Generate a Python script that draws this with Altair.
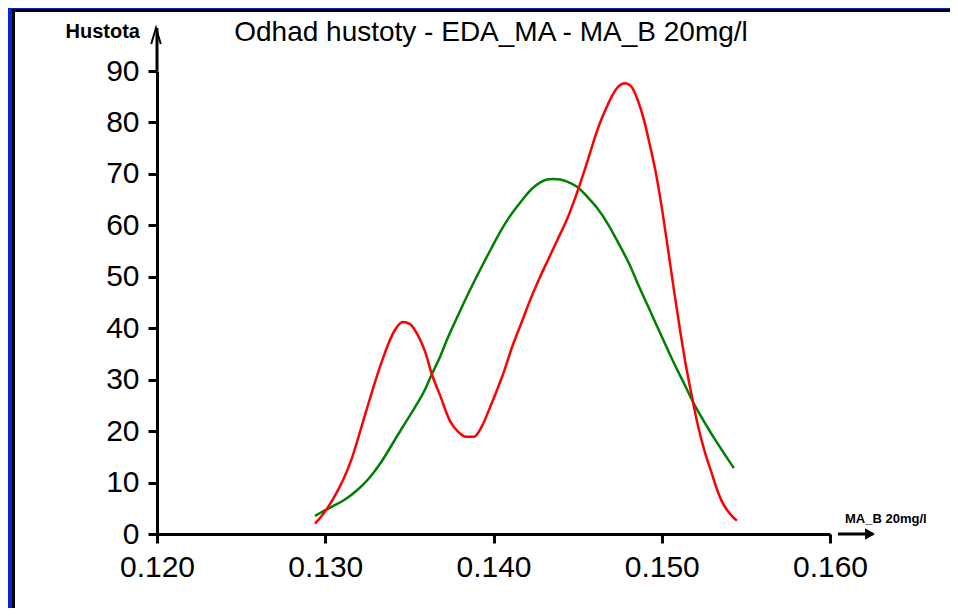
import altair as alt
import pandas as pd

# ---- data ----
red_x = [0.12939, 0.12981, 0.13028, 0.13070, 0.13106, 0.13159, 0.13195, 0.13248, 0.13284, 0.13337,
         0.13373, 0.13415, 0.13462, 0.13504, 0.13551, 0.13593, 0.13634, 0.13682, 0.13741, 0.13789,
         0.13837, 0.13884, 0.13932, 0.13979, 0.14021, 0.14056, 0.14110, 0.14169, 0.14223, 0.14276,
         0.14330, 0.14383, 0.14437, 0.14484, 0.14520, 0.14556, 0.14591, 0.14627, 0.14669, 0.14704,
         0.14740, 0.14782, 0.14823, 0.14859, 0.14895, 0.14930, 0.14966, 0.15001, 0.15037, 0.15073,
         0.15108, 0.15144, 0.15180, 0.15215, 0.15251, 0.15293, 0.15328, 0.15358, 0.15394, 0.15423,
         0.15447]
red_y = [2.0, 3.6, 5.8, 8.2, 10.5, 14.8, 18.6, 24.4, 28.3, 33.6,
         36.8, 39.7, 41.2, 40.8, 38.6, 35.5, 31.0, 27.0, 22.0, 19.9,
         18.9, 18.9, 21.0, 24.6, 28.0, 31.0, 36.3, 41.3, 45.9, 49.9,
         53.7, 57.4, 61.2, 65.2, 68.6, 72.2, 75.9, 79.4, 82.7, 85.1,
         86.9, 87.6, 86.8, 84.2, 80.4, 75.5, 70.0, 63.3, 55.4, 47.3,
         39.8, 32.7, 26.6, 21.1, 16.5, 12.2, 8.7, 6.3, 4.4, 3.3,
         2.6]

green_x = [0.12939, 0.12987, 0.13046, 0.13117, 0.13189, 0.13254, 0.13337, 0.13397, 0.13462, 0.13533,
           0.13593, 0.13634, 0.13682, 0.13724, 0.13771, 0.13819, 0.13872, 0.13932, 0.13985, 0.14039,
           0.14092, 0.14158, 0.14235, 0.14276, 0.14318, 0.14354, 0.14395, 0.14437, 0.14496, 0.14562,
           0.14615, 0.14681, 0.14740, 0.14811, 0.14865, 0.14918, 0.14972, 0.15025, 0.15079, 0.15132,
           0.15198, 0.15269, 0.15322, 0.15388, 0.15429]
green_y = [3.5, 4.4, 5.4, 6.7, 8.5, 10.6, 14.2, 17.4, 20.9, 24.6,
           28.1, 31.1, 34.4, 37.8, 41.2, 44.6, 48.2, 52.1, 55.4, 58.7,
           61.5, 64.4, 67.3, 68.3, 68.9, 69.0, 68.9, 68.5, 67.5, 65.4,
           63.4, 60.2, 56.7, 52.2, 48.1, 44.3, 40.4, 36.6, 32.8, 29.3,
           24.9, 20.9, 18.1, 14.8, 12.8]

x_ticks = [0.12, 0.13, 0.14, 0.15, 0.16]
y_ticks = [0, 10, 20, 30, 40, 50, 60, 70, 80, 90]

title_text = "Odhad hustoty - EDA_MA - MA_B 20mg/l"
y_title = "Hustota"
x_title = "MA_B 20mg/l"

W, H = 673, 463
FONT = "Liberation Sans, Arial, sans-serif"

red_df = pd.DataFrame({"x": red_x, "y": red_y})
green_df = pd.DataFrame({"x": green_x, "y": green_y})
one = pd.DataFrame({"d": [0]})

xscale = alt.Scale(domain=[0.12, 0.16], nice=False, zero=False)
yscale = alt.Scale(domain=[0, 90], nice=False)

xaxis = alt.Axis(values=x_ticks, format=".3f", title=None, grid=False, labelFlush=False,
                 labelPadding=9, labelFontSize=30, tickSize=9)
yaxis = alt.Axis(values=y_ticks, title=None, grid=False,
                 labelPadding=9, labelFontSize=30, tickSize=9)

green_line = alt.Chart(green_df).mark_line(color="#008000", strokeWidth=2.5, interpolate="monotone").encode(
    x=alt.X("x:Q", scale=xscale, axis=xaxis),
    y=alt.Y("y:Q", scale=yscale, axis=yaxis),
)
red_line = alt.Chart(red_df).mark_line(color="#ff0000", strokeWidth=2.5, interpolate="monotone").encode(
    x=alt.X("x:Q", scale=xscale, axis=xaxis),
    y=alt.Y("y:Q", scale=yscale, axis=yaxis),
)


def box(x1, x2, y1, y2, color):
    return alt.Chart(one).mark_rect(color=color).encode(
        x=alt.value(x1), x2=alt.value(x2), y=alt.value(y1), y2=alt.value(y2))


# frame (blue border + black inner line)
frame = [
    box(-149, -145, -63, 537, "#0a22d0"),
    box(-149, 793, -63, -62, "#0a22c0"),
    box(-145, -142, -62, 537, "#000000"),
    box(-145, 793, -62, -59, "#000000"),
]

# y axis arrow
y_arrow_line = alt.Chart(one).mark_rule(color="black", strokeWidth=3).encode(
    x=alt.value(0), y=alt.value(0), y2=alt.value(-43))
y_arrow_head = alt.Chart(one).mark_point(
    shape="M-0.6,1L0,-1L0.6,1", filled=False, stroke="black", strokeWidth=2, size=256, opacity=1
).encode(x=alt.value(-1), y=alt.value(-35))

# x axis arrow
x_arrow_line = alt.Chart(one).mark_rule(color="black", strokeWidth=3).encode(
    x=alt.value(681), x2=alt.value(716), y=alt.value(463))
x_arrow_head = alt.Chart(one).mark_point(
    shape="triangle-right", filled=True, color="black", size=130, opacity=1
).encode(x=alt.value(713), y=alt.value(463))

title = alt.Chart(one).mark_text(
    text=title_text, font=FONT, fontSize=28, align="center", baseline="alphabetic", color="black"
).encode(x=alt.value(334), y=alt.value(-30))

ylab = alt.Chart(one).mark_text(
    text=y_title, font="Liberation Sans Narrow, Liberation Sans, Arial, sans-serif", fontSize=20,
    fontWeight="bold", align="right", baseline="alphabetic", color="black"
).encode(x=alt.value(-17), y=alt.value(-33))

xlab = alt.Chart(one).mark_text(
    text=x_title, font=FONT, fontSize=13, fontWeight="bold", align="left",
    baseline="alphabetic", color="black"
).encode(x=alt.value(688), y=alt.value(452))

chart = alt.layer(
    *frame, green_line, red_line, y_arrow_line, y_arrow_head, x_arrow_line, x_arrow_head,
    title, ylab, xlab
).properties(
    width=W, height=H,
    padding={"left": 149, "top": 63, "right": 120, "bottom": 74},
    autosize=alt.AutoSizeParams(type="none"),
    background="white",
).configure_view(stroke=None).configure_axis(
    domainColor="black", domainWidth=3, tickColor="black", tickWidth=3,
    labelColor="black", labelFont=FONT,
)

chart.save("out.html", embed_options={"renderer": "svg", "actions": False})
